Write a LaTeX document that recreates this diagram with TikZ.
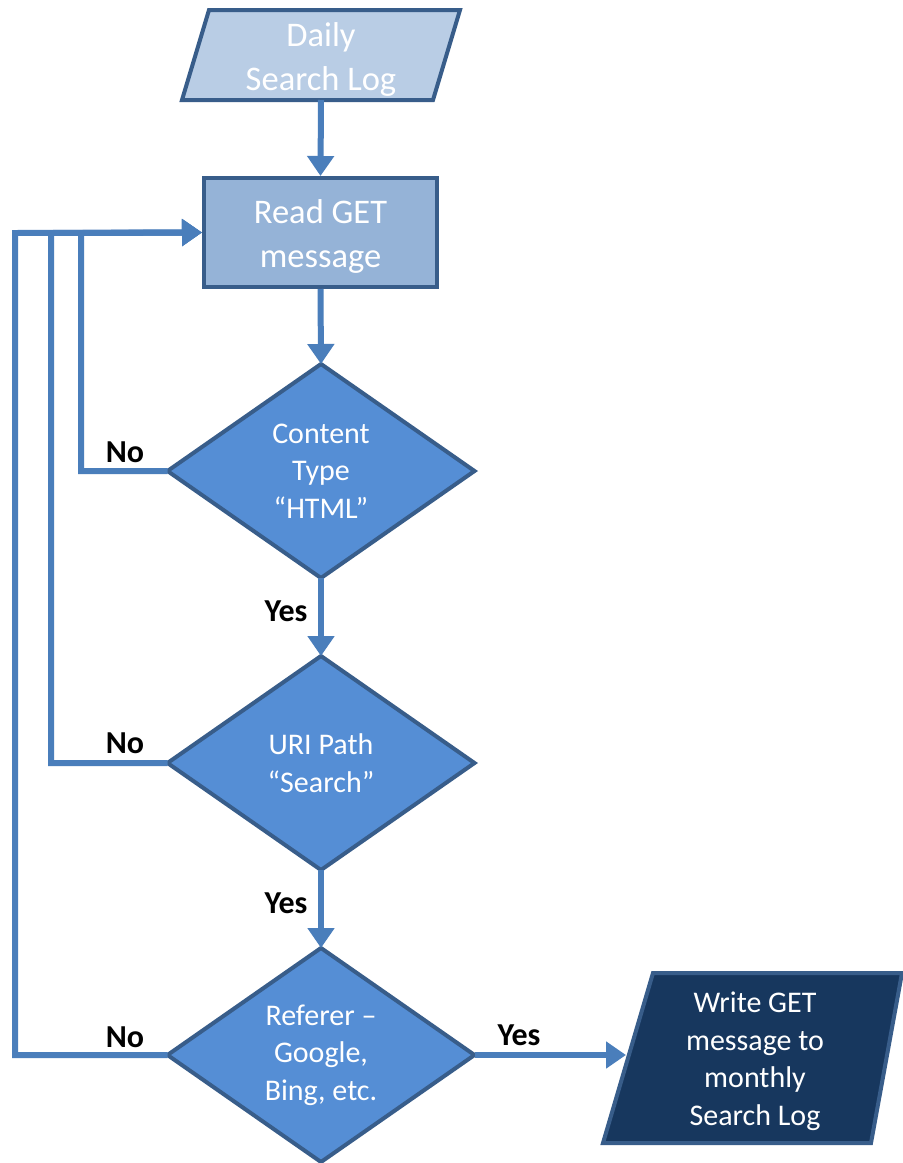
\documentclass[tikz,border=0pt]{standalone}
\usepackage{fontspec}
\setmainfont{Carlito}
\usetikzlibrary{arrows.meta,shapes.geometric}

\definecolor{conn}{HTML}{4A7EBB}
\definecolor{edge}{HTML}{385D8A}
\definecolor{decfill}{HTML}{558ED5}
\definecolor{procfill}{HTML}{95B3D7}
\definecolor{infill}{HTML}{B9CDE5}
\definecolor{outfill}{HTML}{17375E}

\tikzset{
  bigtext/.style={font=\fontsize{34.5}{44}\selectfont, text=white, align=center, inner sep=0pt, outer sep=0pt},
  midtext/.style={font=\fontsize{30}{37.5}\selectfont, text=white, align=center, inner sep=0pt, outer sep=0pt},
  decision/.style={diamond, aspect=1.43, minimum width=307pt, minimum height=214pt,
    draw=edge, line width=4pt, fill=decfill, midtext},
  process/.style={rectangle, minimum width=233pt, minimum height=109pt,
    draw=edge, line width=4pt, fill=procfill},
  connector/.style={draw=conn, line width=6pt, -{Triangle[length=20pt,width=26pt]}},
  answer/.style={font=\fontsize{32}{38}\selectfont\bfseries, text=black, inner sep=0pt},
}

\begin{document}
\begin{tikzpicture}[x=1pt,y=-1pt]
  \useasboundingbox (0,0) rectangle (903,1163);
  \fill[white] (0,0) rectangle (903,1163);

  % input: daily search log (parallelogram)
  \node[minimum width=251pt, minimum height=90pt, inner sep=0pt, outer sep=0pt] (daily) at (321,55) {};
  \path[draw=edge, line width=4pt, fill=infill, line join=miter]
    ([xshift=13.5pt]daily.north west) -- ([xshift=13.5pt]daily.north east)
    -- ([xshift=-13.5pt]daily.south east) -- ([xshift=-13.5pt]daily.south west) -- cycle;
  \node[bigtext] (dailytext) at (321,59) {Daily\\Search Log};

  % read step
  \node[process] (read) at (320.5,232.5) {};
  \node[bigtext] (readtext) at (320.5,236) {Read GET\\message};

  % decisions
  \node[decision] (d1) at (321,471) {Content\\Type\\“HTML”};
  \node[decision] (d2) at (321,763) {URI Path\\“Search”};
  \node[decision] (d3) at (321,1055) {\raisebox{0pt}{Referer –}\\Google,\\Bing, etc.};

  % output: monthly search log
  \node[minimum width=250pt, minimum height=170pt, inner sep=0pt] (out) at (755,1058) {};
  \path[draw=edge, line width=4pt, fill=outfill, line join=miter]
    (653,973) -- (902,973) -- (871,1143) -- (603,1143) -- cycle;
  \node[midtext] (outtext) at (755,1061) {Write GET\\message to\\monthly\\Search Log};
  \coordinate (outin) at (626,1055);

  % main flow
  \draw[connector] (daily.south) -- (read.north);
  \draw[connector] (read.south) -- (d1.north);
  \draw[connector] (d1.south) -- (d2.north);
  \draw[connector] (d2.south) -- (d3.north);
  \draw[connector] (d3.east) -- (outin);

  % "No" branches back to the read step
  \coordinate (l1) at (81,233);
  \coordinate (l2) at (51,233);
  \coordinate (l3) at (15,233);
  \draw[connector] (d1.west) -| (l1) -- (read.west);
  \draw[connector] (d2.west) -| (l2) -- (read.west);
  \draw[connector] (d3.west) -| (l3) -- (read.west);

  % branch labels
  \node[answer] (no1) at (125,452) {No};
  \node[answer] (no2) at (125,743) {No};
  \node[answer] (no3) at (125,1037) {No};
  \node[answer] (yes1) at (286,611) {Yes};
  \node[answer] (yes2) at (286,903) {Yes};
  \node[answer] (yes3) at (519,1035) {Yes};
\end{tikzpicture}
\end{document}
